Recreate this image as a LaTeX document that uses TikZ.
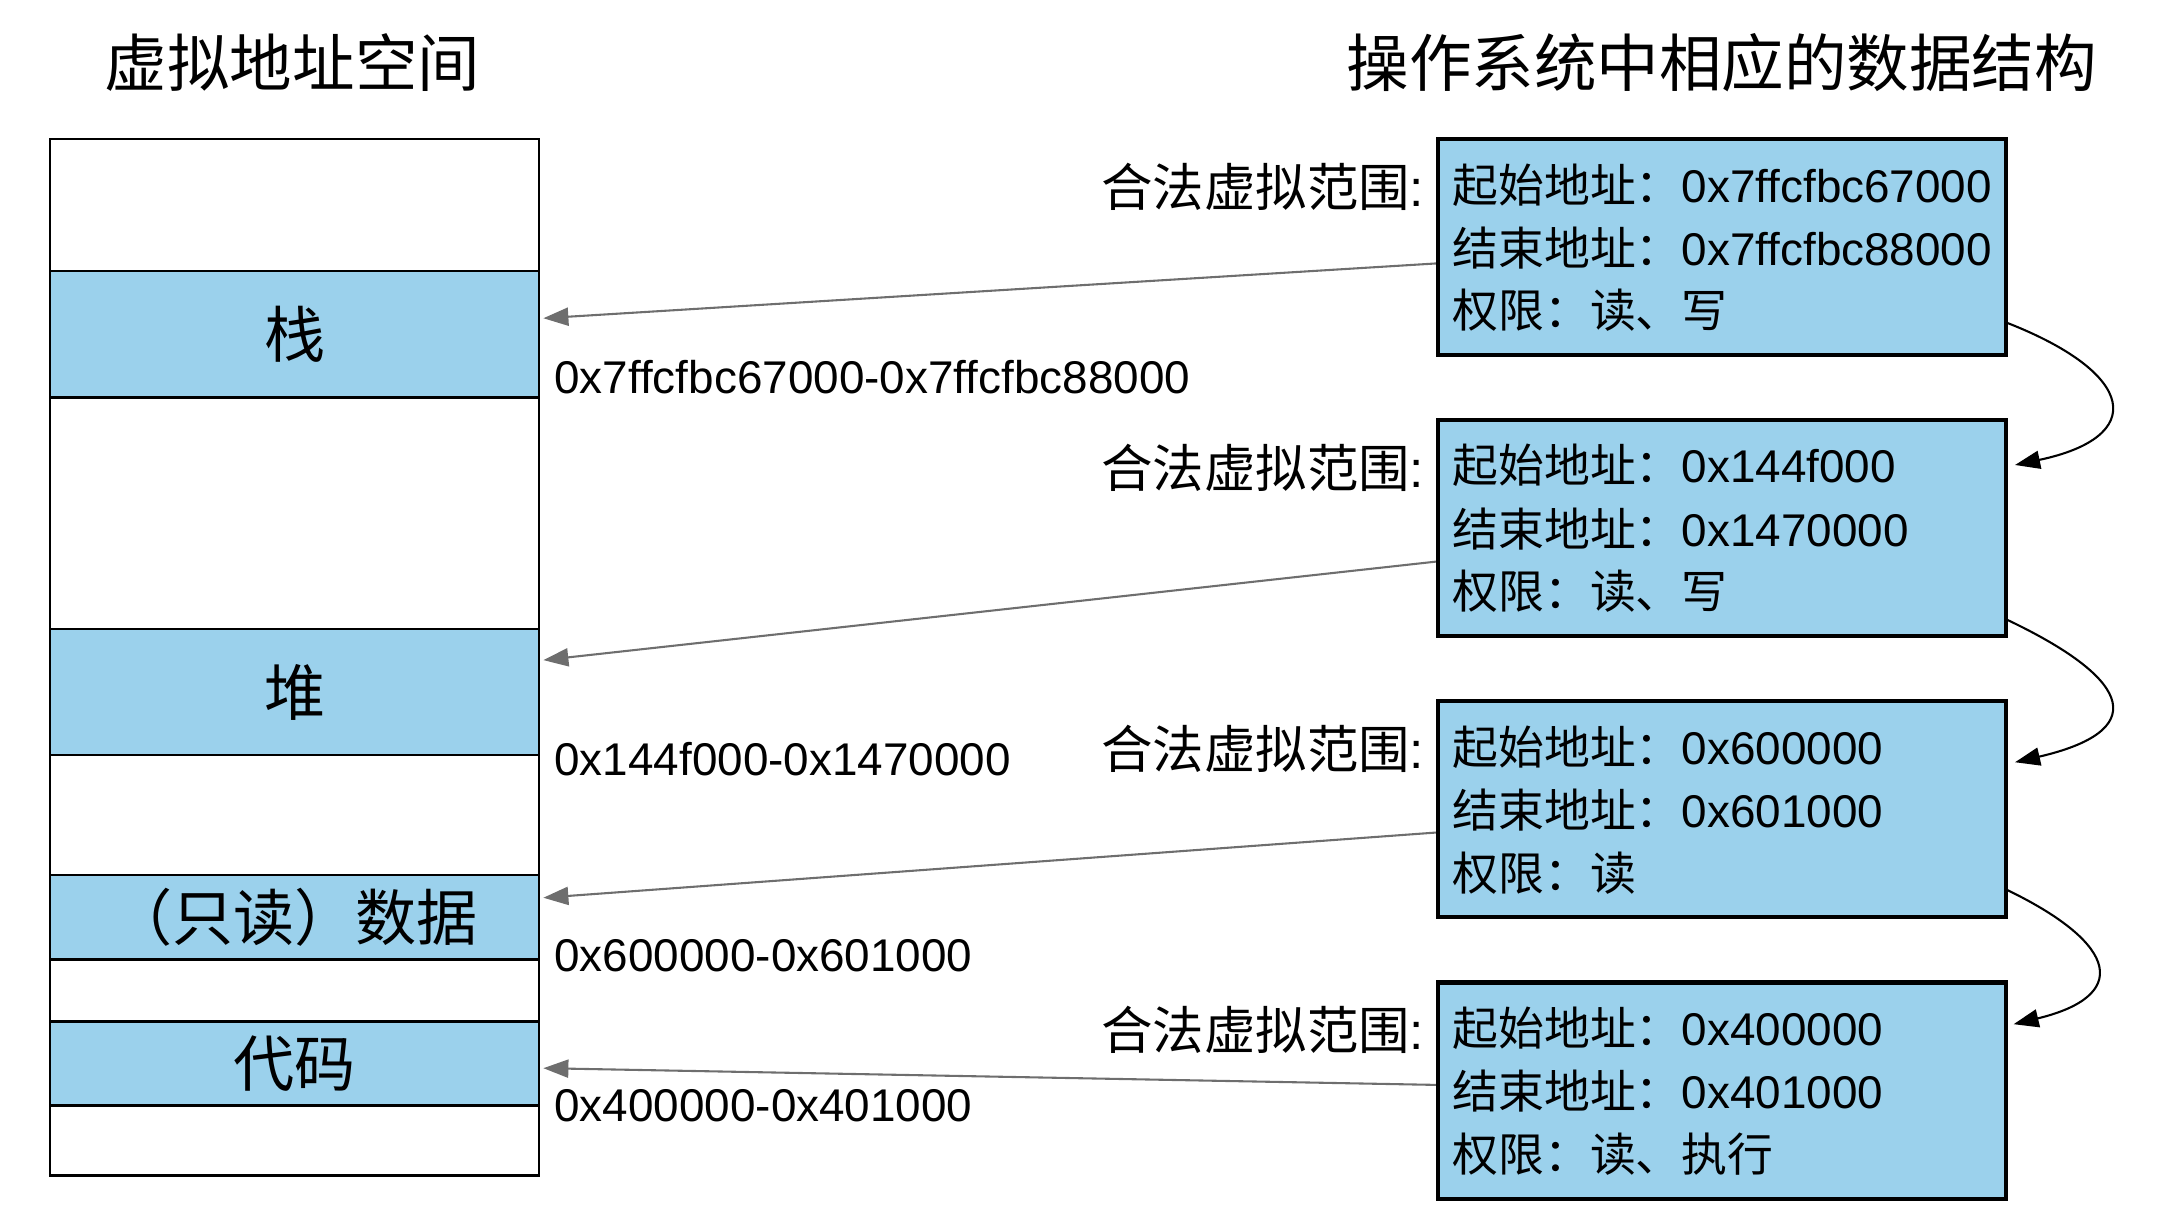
\documentclass[tikz,border=0pt]{standalone}
\usepackage{fontspec}
\setmainfont{Liberation Sans}
\newfontfamily\cjk{Noto Sans CJK SC}
\usetikzlibrary{arrows.meta,calc,backgrounds}
\definecolor{segblue}{RGB}{155,209,236}
\definecolor{linkgray}{RGB}{110,110,110}
\begin{document}
\begin{tikzpicture}[x=1pt,y=-1pt,
  heading/.style={font=\cjk\fontsize{45}{54}\selectfont,inner sep=0},
  column/.style={draw=black,line width=1.7pt,fill=white,minimum width=352pt,outer sep=0,inner sep=0},
  segment/.style={column,fill=segblue,font=\cjk\fontsize{44}{52}\selectfont},
  vma/.style={draw=black,line width=3pt,fill=segblue,minimum width=409pt,minimum height=155.5pt,inner sep=0,outer sep=0,anchor=north west},
  field/.style={font=\fontsize{33}{40}\selectfont,inner sep=0,anchor=base west},
  rangetag/.style={font=\fontsize{37}{44}\selectfont,inner sep=0,anchor=base east},
  addr/.style={font=\fontsize{33}{40}\selectfont,inner sep=0,anchor=base west},
  maplink/.style={draw=linkgray,line width=1.5pt,-{Triangle[length=18pt,width=13pt]}},
  nextlink/.style={draw=black,line width=1.5pt,-{Triangle[length=18pt,width=13pt]}},
]
\useasboundingbox (0,0) rectangle (1568,876);

% headings
\node[heading] (vastitle) at (210.5,45) {虚拟地址空间};
\node[heading] (ostitle) at (1239,45) {操作系统中相应的数据结构};

% virtual address space column and its mapped segments
\node[column,minimum height=746pt] (vas) at (212,473) {};
\node[segment,minimum height=91pt] (stack) at (212,240.5) {栈};
\node[segment,minimum height=91pt] (heap) at (212,498) {堆};
\node[segment,minimum height=61pt] (rodata) at (212,660) {（只读）数据};
\node[segment,minimum height=60.5pt] (code) at (212,765.25) {代码};

% address ranges beside the segments
\node[addr] (stackrange) at (398.7,283) {0x7ffcfbc67000-0x7ffcfbc88000};
\node[addr] (heaprange) at (398.7,558) {0x144f000-0x1470000};
\node[addr] (rodatarange) at (398.7,699) {0x600000-0x601000};
\node[addr] (coderange) at (398.7,807) {0x400000-0x401000};

% kernel area descriptors
\node[vma] (vma1) at (1034.5,100) {};
\node[vma] (vma2) at (1034.5,302) {};
\node[vma] (vma3) at (1034.5,504.5) {};
\node[vma] (vma4) at (1034.5,707) {};

\node[field] (vma1start) at ($(vma1.north west)+(10.5,45.5)$) {{\cjk 起始地址：}0x7ffcfbc67000};
\node[field] (vma1end)   at ($(vma1.north west)+(10.5,91)$)   {{\cjk 结束地址：}0x7ffcfbc88000};
\node[field] (vma1perm)  at ($(vma1.north west)+(10.5,136)$)  {\cjk 权限：读、写};

\node[field] (vma2start) at ($(vma2.north west)+(10.5,45.5)$) {{\cjk 起始地址：}0x144f000};
\node[field] (vma2end)   at ($(vma2.north west)+(10.5,91)$)   {{\cjk 结束地址：}0x1470000};
\node[field] (vma2perm)  at ($(vma2.north west)+(10.5,136)$)  {\cjk 权限：读、写};

\node[field] (vma3start) at ($(vma3.north west)+(10.5,45.5)$) {{\cjk 起始地址：}0x600000};
\node[field] (vma3end)   at ($(vma3.north west)+(10.5,91)$)   {{\cjk 结束地址：}0x601000};
\node[field] (vma3perm)  at ($(vma3.north west)+(10.5,136)$)  {\cjk 权限：读};

\node[field] (vma4start) at ($(vma4.north west)+(10.5,45.5)$) {{\cjk 起始地址：}0x400000};
\node[field] (vma4end)   at ($(vma4.north west)+(10.5,91)$)   {{\cjk 结束地址：}0x401000};
\node[field] (vma4perm)  at ($(vma4.north west)+(10.5,136)$)  {\cjk 权限：读、执行};

\node[rangetag] (tag1) at ($(vma1.north west)+(-9.5,48.5)$) {{\cjk 合法虚拟范围}:};
\node[rangetag] (tag2) at ($(vma2.north west)+(-9.5,48.5)$) {{\cjk 合法虚拟范围}:};
\node[rangetag] (tag3) at ($(vma3.north west)+(-9.5,48.5)$) {{\cjk 合法虚拟范围}:};
\node[rangetag] (tag4) at ($(vma4.north west)+(-9.5,48.5)$) {{\cjk 合法虚拟范围}:};

\begin{scope}[on background layer]
  % each descriptor maps onto its segment
  \draw[maplink] ($(vma1.west)+(0,11.75)$) -- ($(stack.east)+(3,-11.5)$);
  \draw[maplink] ($(vma2.west)+(0,24.25)$) -- ($(heap.east)+(3,-23)$);
  \draw[maplink] ($(vma3.west)+(0,16.75)$) -- ($(rodata.east)+(3,-14)$);
  \draw[maplink] ($(vma4.west)+(0,-4.05)$) -- ($(code.east)+(3,3.4)$);

  % descriptor list links
  \draw[nextlink] ($(vma1.east)+(0,54.25)$) .. controls +(95,37) and +(95,-20) .. ($(vma2.east)+(6.5,-45.15)$);
  \draw[nextlink] ($(vma2.east)+(0,65.85)$) .. controls +(95,45) and +(95,-22) .. ($(vma3.east)+(6.5,-33.75)$);
  \draw[nextlink] ($(vma3.east)+(0,57.75)$) .. controls +(83,40) and +(83,-20) .. ($(vma4.east)+(5.5,-47.75)$);
\end{scope}
\end{tikzpicture}
\end{document}
